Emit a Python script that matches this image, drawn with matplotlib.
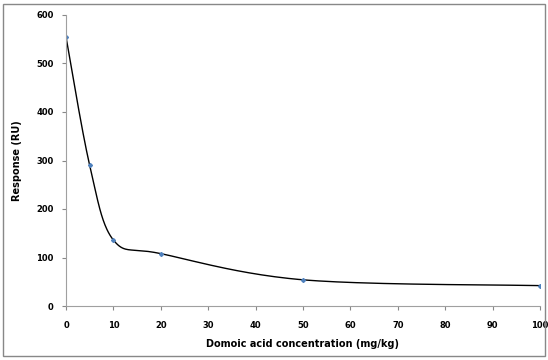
import numpy as np
import matplotlib.pyplot as plt
from matplotlib.patches import Rectangle

conc = [0, 5, 10, 20, 50, 100]
response = [555, 290, 136, 108, 54, 42]
xticks = [0, 10, 20, 30, 40, 50, 60, 70, 80, 90, 100]
yticks = [0, 100, 200, 300, 400, 500, 600]


# excel-like smoothed line (cubic bezier through the points)
def smooth(x, y, n=40):
    x = np.asarray(x, float)
    y = np.asarray(y, float)
    px = np.concatenate([[x[0]], x, [x[-1]]])
    py = np.concatenate([[y[0]], y, [y[-1]]])
    xs, ys = [], []
    t = np.linspace(0, 1, n)
    for i in range(1, len(px) - 2):
        p0 = np.array([px[i], py[i]])
        p3 = np.array([px[i + 1], py[i + 1]])
        p1 = p0 + (np.array([px[i + 1], py[i + 1]]) - np.array([px[i - 1], py[i - 1]])) / 6
        p2 = p3 - (np.array([px[i + 2], py[i + 2]]) - np.array([px[i], py[i]])) / 6
        b = ((1 - t) ** 3)[:, None] * p0 + (3 * (1 - t) ** 2 * t)[:, None] * p1 \
            + (3 * (1 - t) * t ** 2)[:, None] * p2 + (t ** 3)[:, None] * p3
        xs.extend(b[:, 0])
        ys.extend(b[:, 1])
    return xs, ys


fig = plt.figure(figsize=(5.48, 3.6), dpi=100)
ax = fig.add_axes([66 / 548, 54 / 360, 474 / 548, 291 / 360])

sx, sy = smooth(conc, response)
ax.plot(sx, sy, color="black", lw=1.0)
ax.plot(conc, response, ls="none", marker="D", ms=2, color="#4F81BD")

ax.set_xlim(0, 100)
ax.set_ylim(0, 600)
ax.set_xticks(xticks)
ax.set_yticks(yticks)
ax.tick_params(labelsize=6, colors="#888888", direction="out", length=3, width=0.8)
for lab in ax.get_xticklabels() + ax.get_yticklabels():
    lab.set_fontweight("bold")
    lab.set_color("black")
for s in ["top", "right"]:
    ax.spines[s].set_visible(False)
for s in ["left", "bottom"]:
    ax.spines[s].set_color("#a0a0a0")
ax.tick_params(axis="x", pad=8)
ax.tick_params(axis="y", pad=6)

ax.set_xlabel("Domoic acid concentration (mg/kg)", fontsize=7, fontweight="bold", labelpad=6)
ax.set_ylabel("Response (RU)", fontsize=7, fontweight="bold", labelpad=10)

fig.patches.append(Rectangle((3 / 548, 4 / 360), 542 / 548, 352 / 360, transform=fig.transFigure,
                             fill=False, edgecolor="#888888", lw=1))

fig.savefig("out.png", dpi=100)
